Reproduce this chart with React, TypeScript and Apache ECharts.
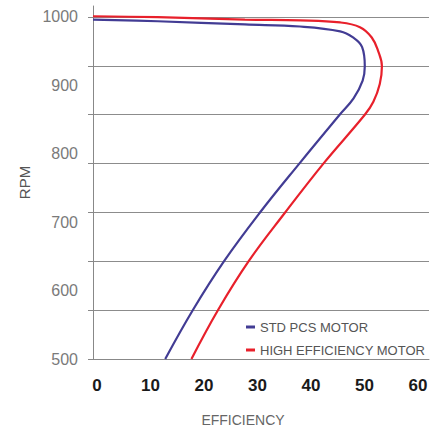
import React, { useEffect, useRef } from "react";
import * as echarts from "echarts";

// STD PCS MOTOR curve (efficiency %, rpm)
const stdEff = [0, 12.1, 28.4, 38.7, 46.2, 48.6, 50.3, 50.8, 50.4, 48.7, 46.1, 38.6, 31.1, 24.5, 18.7, 13.5];
const stdRpm = [996, 993.7, 989, 986, 979, 970, 956, 928, 907, 881, 857, 786, 713, 643, 572, 500];

// HIGH EFFICIENCY MOTOR curve
const hiEff = [0, 12.1, 28.4, 38.7, 46.2, 49.9, 52.1, 53.3, 54.0, 53.6, 52.4, 50.8, 43.1, 35.8, 29.1, 23.4, 18.4];
const hiRpm = [1001, 999.7, 996, 995, 992, 985, 970, 950, 928, 902, 876, 857, 786, 713, 643, 572, 500];

const xTicks = [0, 10, 20, 30, 40, 50, 60];
const yTicks = [500, 600, 700, 800, 900, 1000];
const gridLines = [500, 571.43, 642.86, 714.29, 785.71, 857.14, 928.57, 1000];

const seriesNames = ["STD PCS MOTOR", "HIGH EFFICIENCY MOTOR"];

export default function App() {
  const ref = useRef<HTMLDivElement>(null);
  useEffect(() => {
    const chart = echarts.init(ref.current!, null, { renderer: "svg" });
    chart.setOption({
      animation: false,
      backgroundColor: "#ffffff",
      textStyle: { fontFamily: "Liberation Sans" },
      grid: { left: 93, right: 13, top: 6, bottom: 68 },
      legend: {
        orient: "vertical",
        left: 246,
        top: 319,
        padding: 0,
        itemGap: 7,
        itemWidth: 9,
        itemHeight: 3,
        icon: "rect",
        textStyle: { fontSize: 13, color: "#555", lineHeight: 16 },
        data: seriesNames,
      },
      xAxis: {
        type: "value",
        min: 0,
        max: 62.8,
        name: "EFFICIENCY",
        nameLocation: "middle",
        nameGap: 54,
        nameTextStyle: { fontSize: 14, color: "#666", padding: [0, 36, 0, 0] },
        axisLine: { show: true, lineStyle: { color: "#888", width: 1 } },
        axisTick: { show: false },
        splitLine: { show: false },
        axisLabel: {
          customValues: xTicks,
          fontSize: 17,
          fontWeight: "bold",
          color: "#1a1a1a",
          margin: 18,
          padding: [0, 0, 0, 8],
        },
      },
      yAxis: {
        type: "value",
        min: 500,
        max: 1016,
        name: "RPM",
        nameLocation: "middle",
        nameGap: 55,
        nameTextStyle: { fontSize: 15, color: "#555" },
        axisLine: { show: true, lineStyle: { color: "#888", width: 1 } },
        axisTick: {
          show: true,
          customValues: gridLines,
          length: 5,
          lineStyle: { color: "#888" },
        },
        splitLine: { show: true, lineStyle: { color: "#8c8c8c", width: 1 } },
        axisLabel: {
          customValues: yTicks,
          fontSize: 16,
          color: "#7a7a7a",
          margin: 15,
          formatter: (v: number) => String(v),
        },
      },
      series: [
        {
          name: seriesNames[0],
          type: "line",
          smooth: 0.4,
          showSymbol: false,
          color: "#423c94",
          lineStyle: { width: 2.2, color: "#423c94" },
          data: stdEff.map((e, i) => [e, stdRpm[i]]),
        },
        {
          name: seriesNames[1],
          type: "line",
          smooth: 0.4,
          showSymbol: false,
          color: "#e8202b",
          lineStyle: { width: 2.2, color: "#e8202b" },
          data: hiEff.map((e, i) => [e, hiRpm[i]]),
        },
      ],
    });
    return () => chart.dispose();
  }, []);
  return (
    <div
      ref={ref}
      style={{ position: "fixed", left: 0, top: 0, width: 442, height: 432 }}
    />
  );
}
